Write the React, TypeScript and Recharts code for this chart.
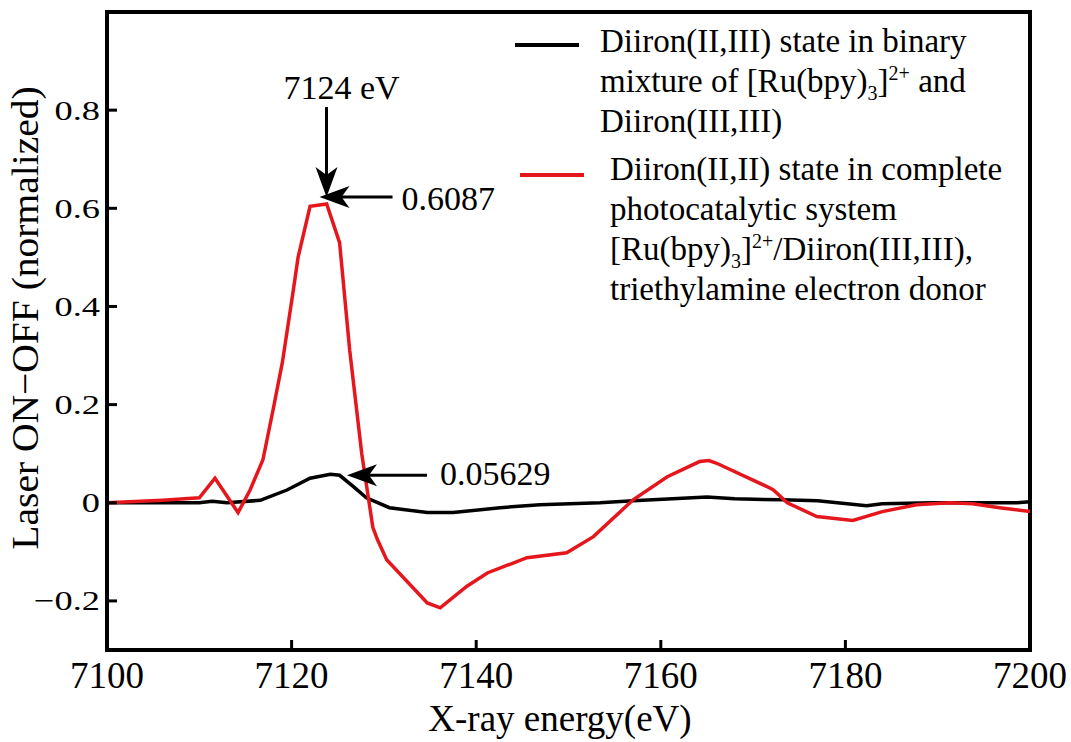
import React from "react";
import { Legend, Line, LineChart, ReferenceArea, ReferenceDot, XAxis, YAxis } from "recharts";

const FONT = "'Liberation Serif', 'Times New Roman', serif";
const RED = "#e5161c";

// Diiron(II,III) binary mixture trace (black)
const blackX = [7100, 7110, 7111.4, 7113, 7116.6, 7119.5, 7122, 7124.2, 7125.2, 7126.7, 7128.1, 7130.6, 7134.7, 7137.5, 7142.6, 7146.9, 7153.4, 7157, 7165, 7168, 7173.2, 7177, 7182.3, 7184, 7189.5, 7198.6, 7200];
const blackY = [0, 0, 0.003, 0, 0.005, 0.026, 0.05, 0.058, 0.056, 0.033, 0.01, -0.01, -0.02, -0.02, -0.01, -0.004, 0, 0.004, 0.012, 0.008, 0.006, 0.004, -0.006, -0.002, 0, 0, 0.002];

// Diiron(II,II) complete photocatalytic system trace (red)
const redX = [7100, 7106, 7110, 7111.7, 7114.2, 7115.5, 7116.9, 7118, 7119, 7120.2, 7120.7, 7122, 7123.8, 7125.2, 7126.3, 7127.6, 7128.8, 7129.3, 7130.3, 7134.7, 7136.1, 7139, 7141.2, 7145.5, 7149.8, 7152.7, 7157, 7160.7, 7164.2, 7165.2, 7166, 7171.5, 7172.2, 7173.7, 7176.9, 7180.8, 7184, 7187.7, 7191.3, 7193.8, 7196.7, 7200];
const redY = [0, 0.005, 0.01, 0.05, -0.02, 0.026, 0.088, 0.19, 0.286, 0.435, 0.5, 0.604, 0.6087, 0.53, 0.31, 0.1, -0.05, -0.075, -0.116, -0.204, -0.214, -0.17, -0.143, -0.112, -0.102, -0.069, 0.006, 0.053, 0.084, 0.086, 0.081, 0.033, 0.026, 0, -0.028, -0.036, -0.018, -0.004, 0, -0.002, -0.01, -0.018];

const xTicks = [7100, 7120, 7140, 7160, 7180, 7200];
const yTicks = [-0.2, 0, 0.2, 0.4, 0.6, 0.8];

// arrow annotations
const peakRed = { x: 7124, y: 0.6087, energy: "7124 eV", value: "0.6087" };
const peakBlack = { x: 7126, y: 0.05629, value: "0.05629" };

const blackData = blackX.map((x, i) => ({ x, y: blackY[i] }));
const redData = redX.map((x, i) => ({ x, y: redY[i] }));

const XTick = (props: any) => {
  const { x, y, payload } = props;
  return (
    <g>
      <line x1={x} y1={y} x2={x} y2={y - 10} stroke="#000" strokeWidth={3} />
      <text x={x} y={y + 38} textAnchor="middle" fontSize={37} fontFamily={FONT} fill="#000">
        {payload.value}
      </text>
    </g>
  );
};

const YTick = (props: any) => {
  const { x, y, payload } = props;
  const v = payload.value;
  const s = v < 0 ? "\u2212" + Math.abs(v) : String(v);
  return (
    <g>
      <line x1={x} y1={y} x2={x + 10} y2={y} stroke="#000" strokeWidth={3} />
      <text transform={`translate(${x - 7},${y}) scale(1.3,1)`} textAnchor="end" dominantBaseline="central" fontSize={28} fontFamily={FONT} fill="#000">
        {s}
      </text>
    </g>
  );
};

const headLeft = (tx: number, ty: number) => `${tx},${ty} ${tx + 30},${ty - 11} ${tx + 22},${ty} ${tx + 30},${ty + 11}`;
const headDown = (tx: number, ty: number) => `${tx},${ty} ${tx - 11},${ty - 30} ${tx},${ty - 22} ${tx + 11},${ty - 30}`;

const RedPeakMark = (props: any) => {
  const { cx, cy } = props;
  const dx = cx - 2;
  const ty = cy - 7;
  return (
    <g>
      <line x1={dx} y1={ty - 90} x2={dx} y2={ty - 20} stroke="#000" strokeWidth={3} />
      <polygon points={headDown(dx, ty)} fill="#000" />
      <text x={cx + 13} y={cy - 105} textAnchor="middle" fontSize={34} fontFamily={FONT} fill="#000">
        {peakRed.energy}
      </text>
      <line x1={cx + 12} y1={ty} x2={cx + 64} y2={ty} stroke="#000" strokeWidth={3} />
      <polygon points={headLeft(cx - 9, ty)} fill="#000" />
      <text x={cx + 73} y={cy + 6} fontSize={34} fontFamily={FONT} fill="#000">
        {peakRed.value}
      </text>
    </g>
  );
};

const BlackPeakMark = (props: any) => {
  const { cx, cy } = props;
  return (
    <g>
      <line x1={cx + 20} y1={cy} x2={cx + 80} y2={cy} stroke="#000" strokeWidth={3} />
      <polygon points={headLeft(cx, cy)} fill="#000" />
      <text x={cx + 93} y={cy + 10} fontSize={34} fontFamily={FONT} fill="#000">
        {peakBlack.value}
      </text>
    </g>
  );
};

const subStyle = { fontSize: 20, lineHeight: 0 } as const;

const legendItems = [
  {
    color: "#000",
    swatchTop: 22,
    swatchLeft: 0,
    textLeft: 21,
    lines: [
      <>Diiron(II,III) state in binary</>,
      <>mixture of [Ru(bpy)<sub style={subStyle}>3</sub>]<sup style={subStyle}>2+</sup> and</>,
      <>Diiron(III,III)</>,
    ],
  },
  {
    color: RED,
    swatchTop: 24,
    swatchLeft: 5,
    textLeft: 26,
    lines: [
      <>Diiron(II,II) state in complete</>,
      <>photocatalytic system</>,
      <>[Ru(bpy)<sub style={subStyle}>3</sub>]<sup style={subStyle}>2+</sup>/Diiron(III,III),</>,
      <>triethylamine electron donor</>,
    ],
  },
];

const LegendBox = () => (
  <div style={{ fontFamily: FONT, fontSize: 33, lineHeight: "40px", color: "#000" }}>
    {legendItems.map((item, i) => (
      <div key={i} style={{ display: "flex", alignItems: "flex-start", marginBottom: 8 }}>
        <div style={{ width: 64, height: 4, background: item.color, marginTop: item.swatchTop, marginLeft: item.swatchLeft, flexShrink: 0 }} />
        <div style={{ marginLeft: item.textLeft }}>
          {item.lines.map((l, j) => (
            <div key={j} style={{ whiteSpace: "nowrap" }}>{l}</div>
          ))}
        </div>
      </div>
    ))}
  </div>
);

function App() {
  return (
    <div style={{ position: "absolute", left: 0, top: 0, background: "#fff" }}>
      <LineChart width={1071} height={742} margin={{ top: 12, right: 41, bottom: 0, left: 0 }}>
        <XAxis
          dataKey="x"
          type="number"
          domain={[7100, 7200]}
          ticks={xTicks}
          interval={0}
          height={92}
          tickSize={0}
          tickMargin={0}
          tickLine={false}
          axisLine={{ stroke: "#000", strokeWidth: 4 }}
          tick={<XTick />}
          allowDataOverflow
          label={() => (
            <text x={560} y={731} textAnchor="middle" fontSize={37} fontFamily={FONT} fill="#000">
              X-ray energy(eV)
            </text>
          )}
        />
        <YAxis
          type="number"
          domain={[-0.3, 1.0]}
          ticks={yTicks}
          interval={0}
          width={107}
          tickSize={0}
          tickMargin={0}
          tickLine={false}
          axisLine={{ stroke: "#000", strokeWidth: 4 }}
          tick={<YTick />}
          allowDataOverflow
          label={() => (
            <text transform="translate(38,318) rotate(-90) scale(1.04,1)" textAnchor="middle" fontSize={38} fontFamily={FONT} fill="#000">
              Laser ON{"\u2212"}OFF (normalized)
            </text>
          )}
        />
        <ReferenceArea x1={7100} x2={7200} y1={-0.3} y2={1.0} fill="none" stroke="#000" strokeWidth={4} />
        <Line data={blackData} dataKey="y" name="black" type="linear" stroke="#000" strokeWidth={3.5} dot={false} isAnimationActive={false} />
        <Line data={redData} dataKey="y" name="red" type="linear" stroke={RED} strokeWidth={3.5} dot={false} isAnimationActive={false} />
        <ReferenceDot x={peakRed.x} y={peakRed.y} r={0} shape={(p: any) => <RedPeakMark {...p} />} />
        <ReferenceDot x={peakBlack.x} y={peakBlack.y} r={0} shape={(p: any) => <BlackPeakMark {...p} />} />
        <Legend
          layout="horizontal"
          verticalAlign="middle"
          align="center"
          content={<LegendBox />}
          wrapperStyle={{ position: "absolute", left: 515, top: 21, width: 540, height: "auto" }}
        />
      </LineChart>
    </div>
  );
}

export default App;
